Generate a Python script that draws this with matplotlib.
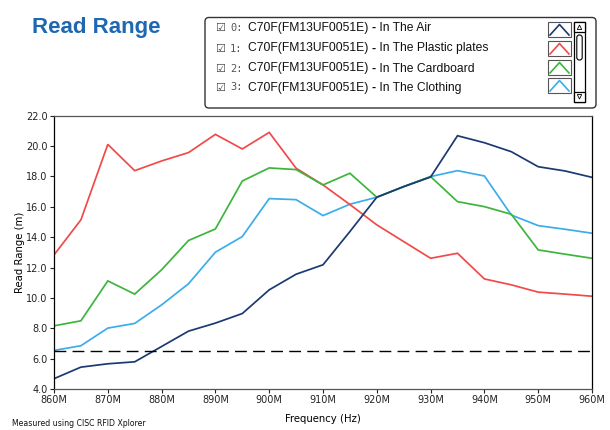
import matplotlib
matplotlib.use("Agg")
import matplotlib.pyplot as plt
from matplotlib.patches import Rectangle, FancyBboxPatch, Polygon
from matplotlib.lines import Line2D

# ---------------- data ----------------
freq_mhz = [860, 865, 870, 875, 880, 885, 890, 895, 900, 905, 910,
            915, 920, 925, 930, 935, 940, 945, 950, 955, 960]
in_air = [4.68, 5.44, 5.66, 5.79, 6.80, 7.81, 8.34, 8.97, 10.53, 11.56, 12.18,
          14.37, 16.63, 17.33, 17.96, 20.68, 20.22, 19.63, 18.64, 18.36, 17.94]
in_plastic = [12.83, 15.14, 20.11, 18.38, 19.02, 19.57, 20.77, 19.81, 20.90, 18.54, 17.44,
              16.15, 14.81, 13.71, 12.61, 12.94, 11.25, 10.86, 10.38, 10.25, 10.11]
in_cardboard = [8.16, 8.49, 11.12, 10.25, 11.85, 13.78, 14.54, 17.70, 18.56, 18.45, 17.44,
                18.21, 16.63, 17.33, 17.99, 16.34, 16.01, 15.51, 13.16, 12.88, 12.61]
in_clothing = [6.54, 6.85, 8.01, 8.32, 9.54, 10.93, 13.01, 14.04, 16.54, 16.47, 15.42,
               16.17, 16.63, 17.33, 17.99, 18.38, 18.03, 15.46, 14.76, 14.52, 14.26]
threshold = 6.5

x_ticks = [860, 870, 880, 890, 900, 910, 920, 930, 940, 950, 960]
x_tick_labels = ["860M", "870M", "880M", "890M", "900M", "910M",
                 "920M", "930M", "940M", "950M", "960M"]
y_ticks = [4, 6, 8, 10, 12, 14, 16, 18, 20, 22]

series_names = ["In The Air", "In The Plastic plates", "In The Cardboard", "In The Clothing"]
tag_name = "C70F(FM13UF0051E)"
colors = ["#1b3a73", "#f04a4a", "#3db53d", "#3badea"]

title = "Read Range"
footnote = "Measured using CISC RFID Xplorer"

# ---------------- figure ----------------
W, H = 610, 430
fig = plt.figure(figsize=(W / 100, H / 100), dpi=100)
fig.patch.set_facecolor("white")

L, R, T, B = 54, 592, 115.7, 389
ax = fig.add_axes([L / W, 1 - B / H, (R - L) / W, (B - T) / H])

series = [in_air, in_plastic, in_cardboard, in_clothing]
draw_order = [3, 1, 2, 0]
for i in draw_order:
    ax.plot(freq_mhz, series[i], color=colors[i], lw=1.25, solid_joinstyle="miter")
ax.axhline(threshold, color="black", lw=1.0, dashes=(8.5, 4.5))

ax.set_xlim(860, 960)
ax.set_ylim(4, 22)
ax.set_xticks(x_ticks)
ax.set_xticklabels(x_tick_labels)
ax.set_yticks(y_ticks)
ax.set_yticklabels([f"{v:.1f}" for v in y_ticks])
ax.tick_params(length=3, width=0.8, direction="out", labelsize=7, pad=1.5,
               colors="#222222")
for s in ["left", "right"]:
    ax.spines[s].set_color("black")
    ax.spines[s].set_linewidth(0.9)
for s in ["top", "bottom"]:
    ax.spines[s].set_color("#555555")
    ax.spines[s].set_linewidth(0.9)
ax.set_xlabel("Frequency (Hz)", fontsize=7.3, labelpad=6)
ax.set_ylabel("Read Range (m)", fontsize=7.3, labelpad=1)

# ---------------- overlay (title, legend, footnote) ----------------
ox = fig.add_axes([0, 0, 1, 1], zorder=5)
ox.set_xlim(0, W)
ox.set_ylim(H, 0)
ox.axis("off")
ox.patch.set_alpha(0)

ox.text(32, 33, title, fontsize=16, fontweight="bold", color="#1e68b2",
        family="Liberation Sans", ha="left", va="baseline")

ox.text(12, 423, footnote, fontsize=5.6, color="#111111",
        family="DejaVu Sans", ha="left", va="center")

# legend box
ox.add_patch(FancyBboxPatch((205, 17.5), 391, 90.5,
                            boxstyle="round,pad=0,rounding_size=4",
                            fc="white", ec="#333333", lw=1.0))
row_y = [28, 48.5, 68.5, 87.5]
icon_y = [22, 41, 60, 78]
for k in range(4):
    y = row_y[k]
    ox.text(215.5, y, "\u2611", fontsize=8, color="#444444",
            family="DejaVu Sans", ha="left", va="center")
    ox.text(230, y, f"{k}:", fontsize=7.5, color="#555555",
            family="DejaVu Sans Mono", ha="left", va="center")
    t1 = ox.text(248, y, f"{tag_name} ", fontsize=8.7,
                 color="#111111", family="Liberation Sans", ha="left", va="center")
    t2 = ox.annotate("-", xy=(1, 0.5), xycoords=t1, ha="left", va="center",
                     fontsize=8.7, fontweight="bold", color="#111111",
                     family="Liberation Sans")
    ox.annotate(f" {series_names[k]}", xy=(1, 0.5), xycoords=t2, ha="left",
                va="center", fontsize=8.7, color="#111111",
                family="Liberation Sans")
    iy = icon_y[k]
    ox.add_patch(Rectangle((548, iy), 23, 15, fc="white", ec="#555555", lw=0.8))
    ox.add_line(Line2D([550, 559.5, 569], [iy + 13, iy + 2.5, iy + 13],
                       color=colors[k], lw=1.2))

# scrollbar
ox.add_patch(Rectangle((574, 22), 11, 80, fc="white", ec="black", lw=0.9))
ox.add_patch(Rectangle((574, 22), 11, 10, fc="white", ec="black", lw=0.9))
ox.add_patch(Rectangle((574, 92), 11, 10, fc="white", ec="black", lw=0.9))
ox.add_patch(FancyBboxPatch((576.8, 35), 5.4, 25,
                            boxstyle="round,pad=0,rounding_size=2.5",
                            fc="white", ec="black", lw=0.8))
ox.add_patch(Polygon([[577.3, 29.5], [579.5, 25], [581.7, 29.5]], closed=True,
                     fc="white", ec="black", lw=0.6))
ox.add_patch(Polygon([[577.3, 94.5], [579.5, 99], [581.7, 94.5]], closed=True,
                     fc="white", ec="black", lw=0.6))

fig.savefig("out.png", dpi=100)
